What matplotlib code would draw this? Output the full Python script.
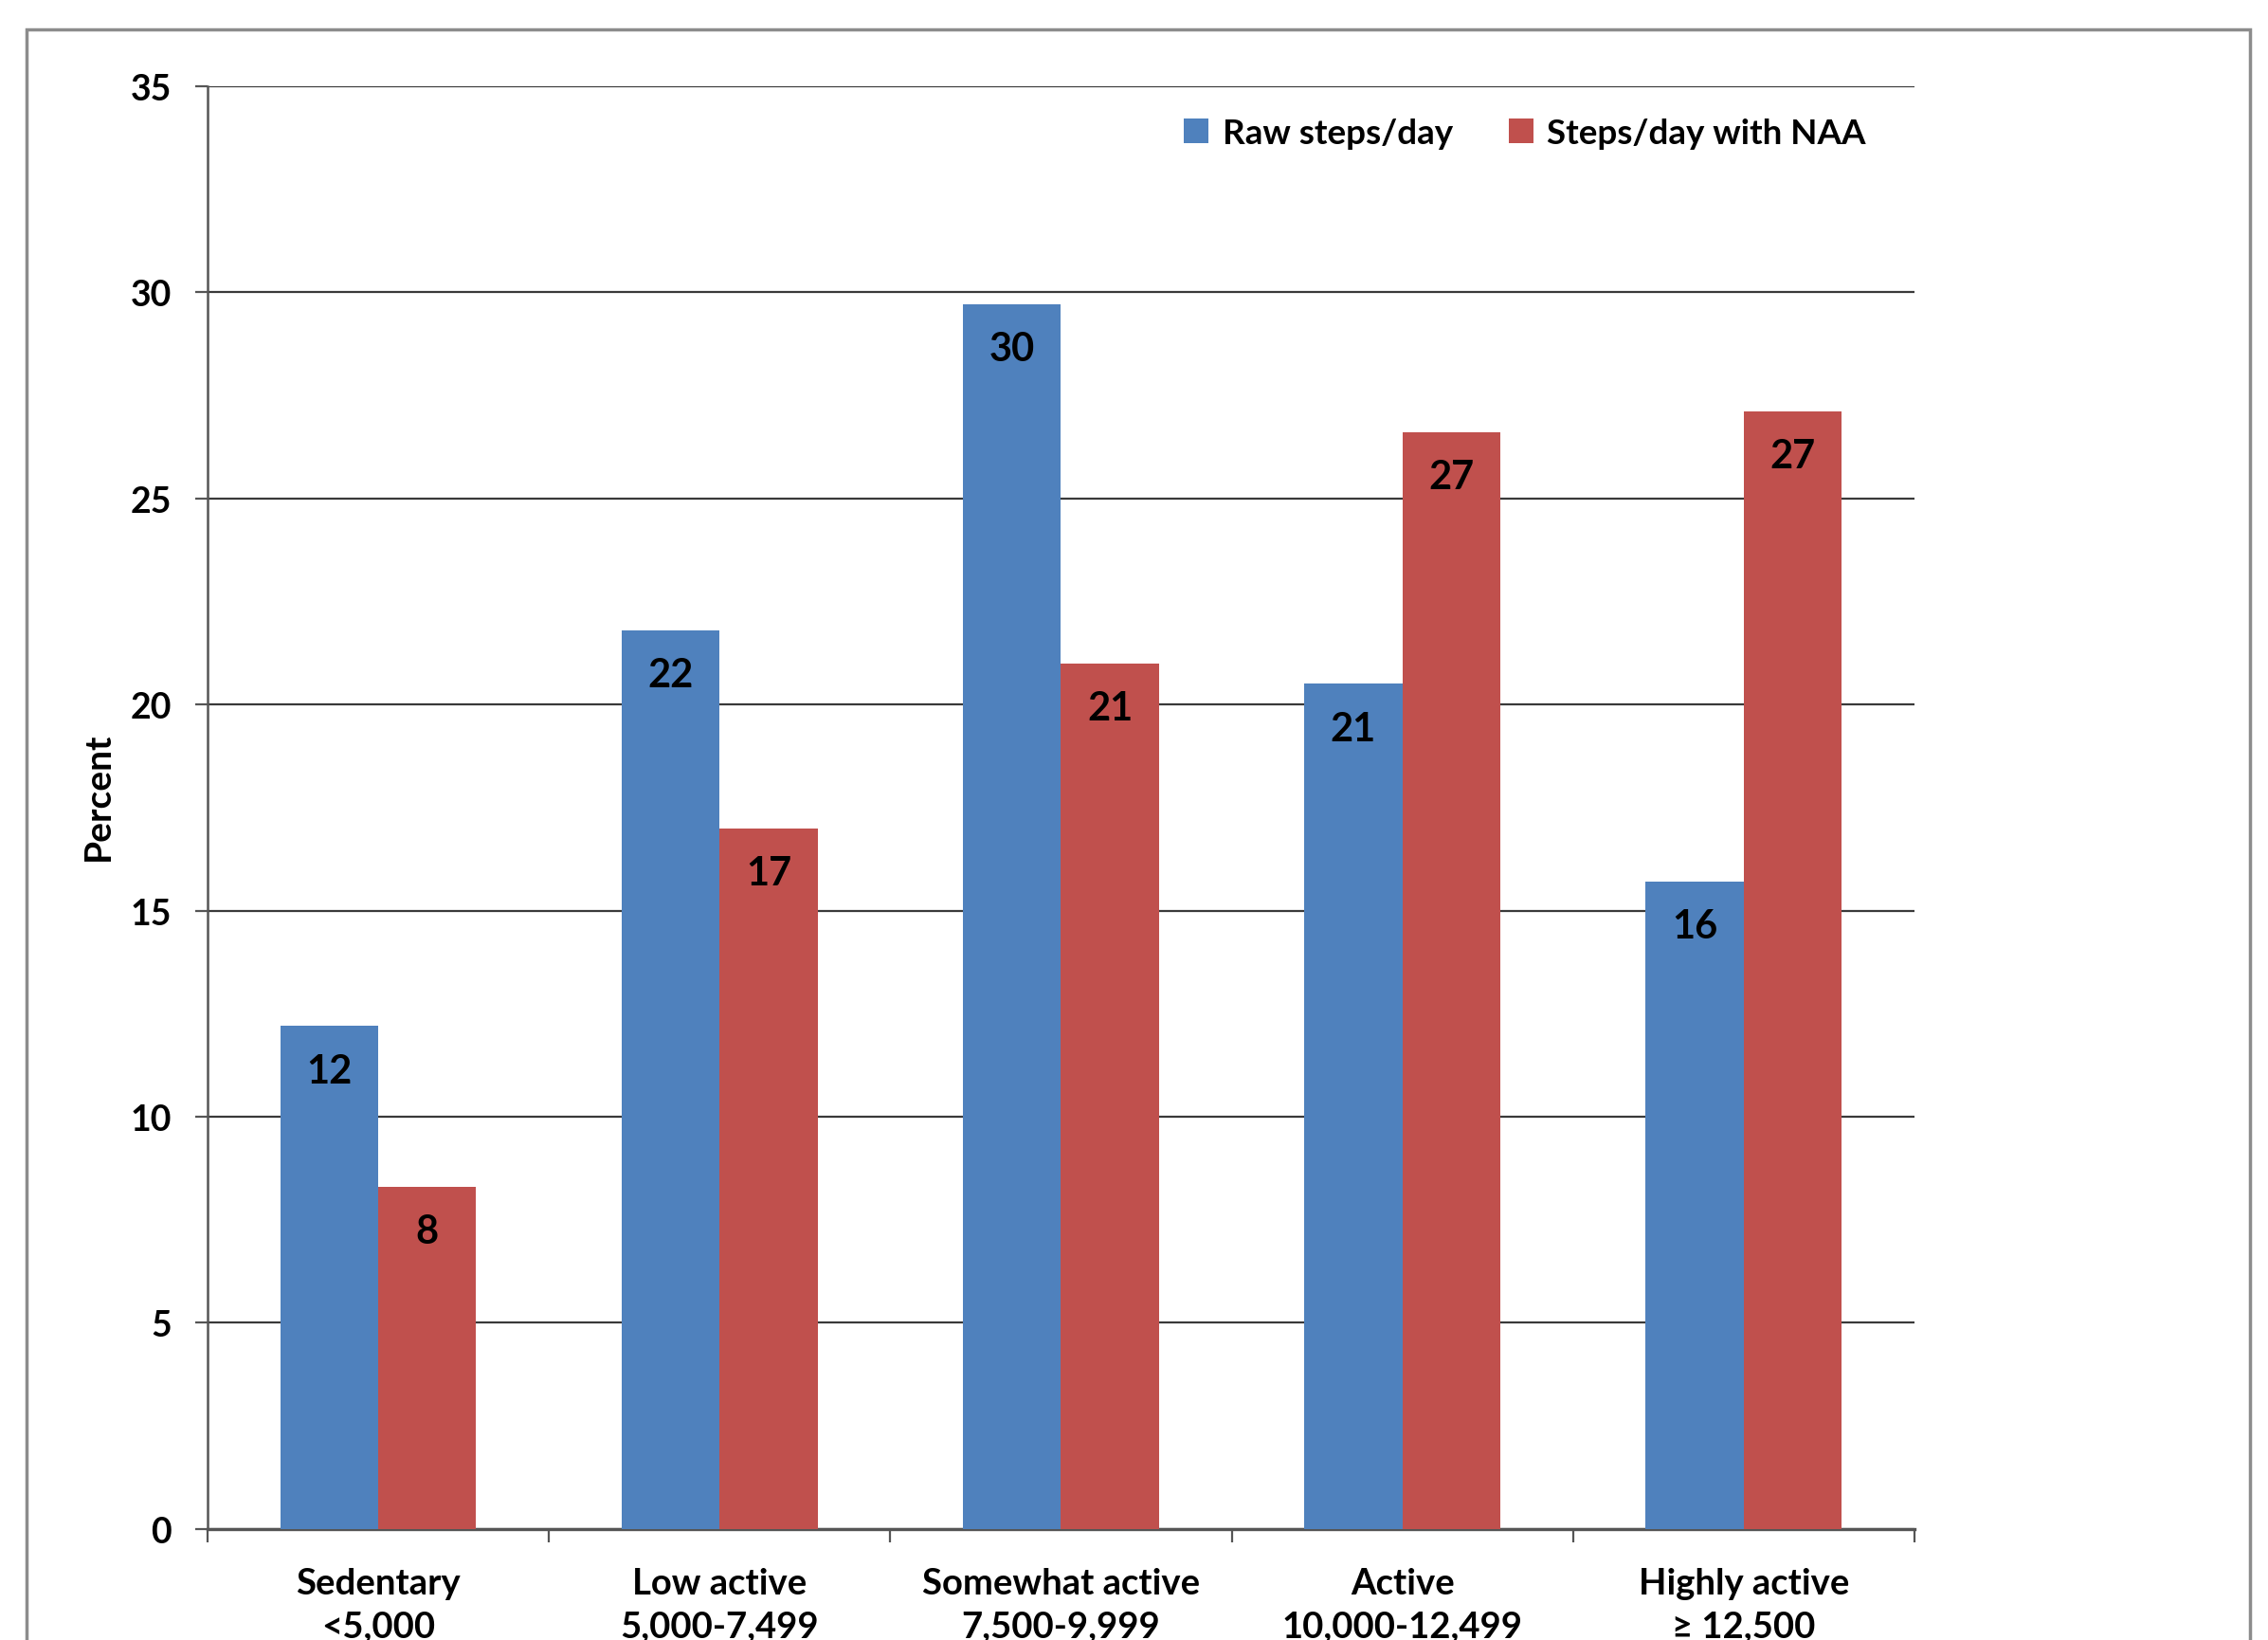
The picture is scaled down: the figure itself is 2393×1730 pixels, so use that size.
import numpy as np
import matplotlib
matplotlib.use("Agg")
import matplotlib.pyplot as plt
from matplotlib.patches import Rectangle
from matplotlib.ticker import MultipleLocator, FixedLocator

# --- dados ---
categorias = ["Sedentary", "Low active", "Somewhat active", "Active", "Highly active"]
faixas = ["<5,000", "5,000-7,499", "7,500-9,999", "10,000-12,499", "\u2265 12,500"]
raw_steps = [12.2, 21.8, 29.7, 20.5, 15.7]
naa_steps = [8.3, 17.0, 21.0, 26.6, 27.1]
raw_labels = ["12", "22", "30", "21", "16"]
naa_labels = ["8", "17", "21", "27", "27"]

plt.rcParams['font.family'] = ['Lato', 'DejaVu Sans']

AZUL = '#4F81BD'
VERMELHO = '#C0504D'

fig = plt.figure(figsize=(23.93, 17.31), dpi=100)
ax = fig.add_axes([0.0915, 0.0676, 0.7526, 0.8795])

x = np.arange(len(categorias))
w = 0.287
b1 = ax.bar(x - w / 2, raw_steps, w, color=AZUL, label='Raw steps/day', zorder=3)
b2 = ax.bar(x + w / 2, naa_steps, w, color=VERMELHO, label='Steps/day with NAA', zorder=3)

# rótulos dentro das barras
for barras, rotulos in [(b1, raw_labels), (b2, naa_labels)]:
    for rect, txt in zip(barras, rotulos):
        ax.annotate(txt, (rect.get_x() + rect.get_width() / 2, rect.get_height()),
                    xytext=(0, -34), textcoords='offset points',
                    ha='center', va='center', fontsize=30, fontweight='bold',
                    color='black', zorder=4)

ax.set_xlim(-0.5, 4.5)
ax.set_ylim(0, 35)
ax.yaxis.set_major_locator(MultipleLocator(5))
ax.grid(axis='y', color='#3a3a3a', linewidth=1.6, zorder=0)
ax.set_axisbelow(True)

for s in ['top', 'right']:
    ax.spines[s].set_visible(False)
ax.spines['left'].set_color('#555555')
ax.spines['left'].set_linewidth(1.8)
ax.spines['bottom'].set_color('#555555')
ax.spines['bottom'].set_linewidth(2.4)

ax.set_xticks(x)
ax.set_xticklabels([f"{c}\n{f}" for c, f in zip(categorias, faixas)],
                   fontsize=27.5, fontweight='bold', linespacing=1.4)
ax.xaxis.set_minor_locator(FixedLocator(np.arange(-0.5, 5.0, 1.0)))
ax.tick_params(axis='x', which='major', length=0, pad=29)
ax.tick_params(axis='x', which='minor', length=10, width=1.6, color='#555555')
ax.tick_params(axis='y', length=9.5, width=1.6, color='#555555', pad=18, labelsize=27)
for lab in ax.get_yticklabels():
    lab.set_fontweight('bold')

ax.set_ylabel('Percent', fontsize=28, fontweight='bold', labelpad=12, y=0.508)

ax.legend(loc='center', bbox_to_anchor=(0.6724, 0.9185), bbox_transform=fig.transFigure,
          ncol=2, frameon=False, prop={'size': 26.5, 'weight': 'bold'},
          handlelength=0.7, handleheight=0.7, handletextpad=0.4, columnspacing=1.6,
          borderpad=0)

# moldura externa
fig.add_artist(Rectangle((28 / 2393, -0.1), (2374 - 28) / 2393, 1.1 - 32 / 1731,
                         transform=fig.transFigure, fill=False, edgecolor='#8c8c8c',
                         linewidth=2.5, clip_on=False))

fig.savefig('out.png', dpi=100)
